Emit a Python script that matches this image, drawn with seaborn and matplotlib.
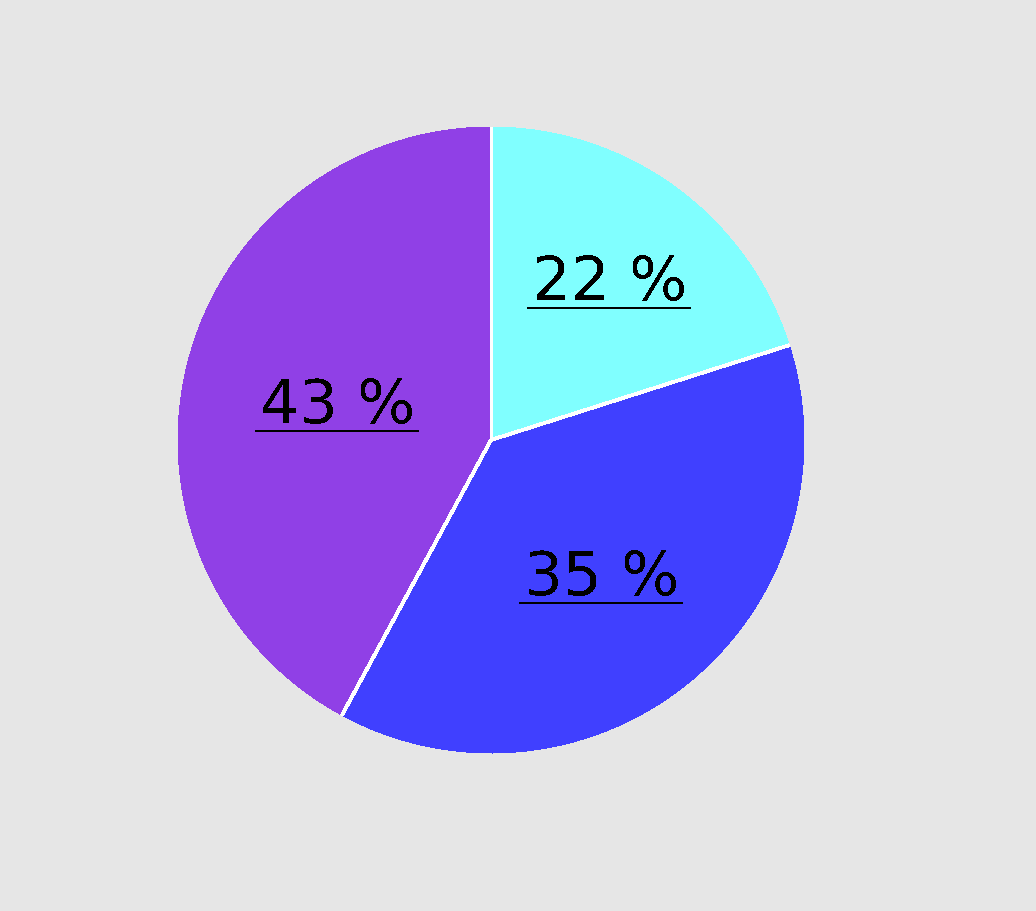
import numpy as np
import matplotlib
matplotlib.use("Agg")
import matplotlib.pyplot as plt
import matplotlib.transforms as mtransforms
from matplotlib.lines import Line2D
import seaborn as sns

# Data (slice shares, labels as printed)
shares = [20.1, 37.8, 42.1]
labels = ["22 %", "35 %", "43 %"]
colors = ["#80FFFF", "#4040FF", "#9040E6"]

sns.set_theme(style="white", rc={"figure.facecolor": "#E6E6E6",
                                 "axes.facecolor": "#E6E6E6",
                                 "text.antialiased": False})
plt.rcParams["font.family"] = ["DejaVu Sans"]

fig = plt.figure(figsize=(10.36, 9.11), dpi=100)
ax = fig.add_axes([178 / 1036, 158 / 911, 626 / 1036, 626 / 911])

wedges, _ = ax.pie(shares, colors=colors, startangle=90, counterclock=False,
                   wedgeprops=dict(linewidth=0, antialiased=False))
ax.set_xlim(-1, 1)
ax.set_ylim(-1, 1)
ax.set_aspect("equal")
ax.axis("off")

# white separators only along the radii, no outer rim
for w in wedges:
    a = np.deg2rad(w.theta2)
    ax.plot([0, np.cos(a)], [0, np.sin(a)], color="white", lw=2,
            antialiased=False, solid_capstyle="butt")

# label distance from centre, per slice
label_r = [0.64, 0.553, 0.507]
base = mtransforms.offset_copy(ax.transData, fig, y=-22, units="dots")
texts = []
for w, lab, r in zip(wedges, labels, label_r):
    mid = np.deg2rad((w.theta1 + w.theta2) / 2)
    t = ax.text(r * np.cos(mid), r * np.sin(mid), lab, transform=base,
                ha="center", va="baseline", fontsize=44, color="black")
    texts.append(t)

# underline each label
fig.canvas.draw()
renderer = fig.canvas.get_renderer()
for t in texts:
    bb = t.get_window_extent(renderer)
    xb, yb = base.transform(t.get_position())
    fig.add_artist(Line2D([bb.x0 - 4, bb.x1 + 3], [yb - 8, yb - 8],
                          transform=None, color="black", linewidth=1.2,
                          antialiased=False))

fig.savefig("out.png", dpi=100, facecolor=fig.get_facecolor())
